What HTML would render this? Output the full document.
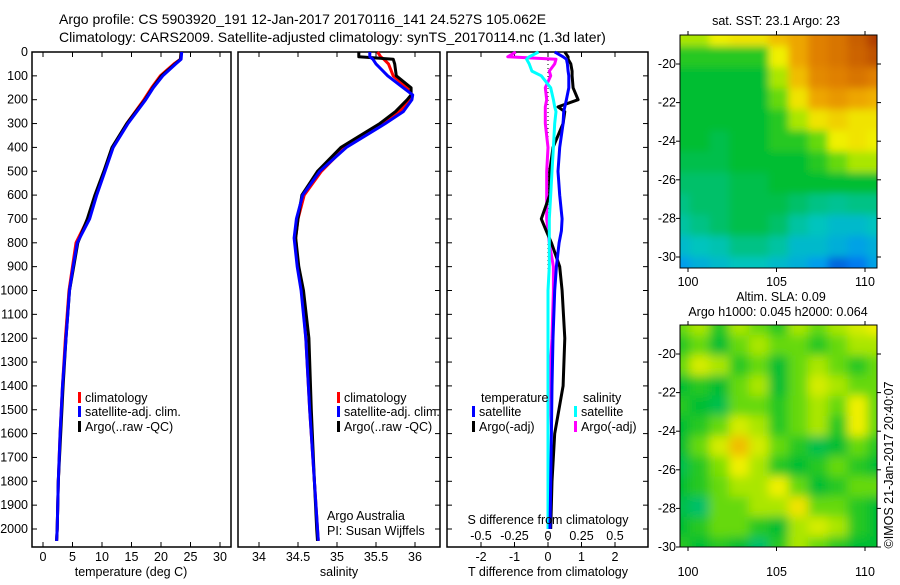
<!DOCTYPE html>
<html><head><meta charset="utf-8"><style>
body{margin:0;background:#fff;}
svg text{font-family:"Liberation Sans",sans-serif;font-size:12.5px;fill:#000;}
</style></head><body>
<svg id="fig" width="900" height="580" viewBox="0 0 900 580" xmlns="http://www.w3.org/2000/svg">
<defs>
<filter id="blur" x="0" y="0" width="1" height="1"><feGaussianBlur stdDeviation="4"/></filter>
<filter id="blur2" x="0" y="0" width="1" height="1"><feGaussianBlur stdDeviation="5"/></filter>
<clipPath id="c1"><rect x="680" y="35" width="197" height="233"/></clipPath>
<clipPath id="c2"><rect x="680" y="325" width="197" height="222"/></clipPath>
</defs>
<text x="59" y="24" style="font-size:14px">Argo profile: CS 5903920_191 12-Jan-2017 20170116_141 24.527S 105.062E</text>
<text x="59" y="42" style="font-size:14px">Climatology: CARS2009. Satellite-adjusted climatology: synTS_20170114.nc (1.3d later)</text>
<g id="g"></g>
</svg>
<script>
// ---- data ----
const depthT=[0,30,50,100,150,200,300,400,500,600,700,800,900,1000,1200,1400,1600,1800,2000,2050];
const tempClim=[23.4,23.3,22.2,19.9,18.4,17.1,14.2,11.8,10.4,8.9,7.6,5.6,5.0,4.4,3.8,3.3,2.9,2.6,2.4,2.3];
const tempSat=[23.5,23.4,22.5,20.3,18.7,17.4,14.4,11.9,10.5,9.1,7.9,5.8,5.1,4.5,3.9,3.3,2.9,2.6,2.4,2.3];
const tempArgo=[23.4,23.3,22.4,20.1,18.6,17.3,14.2,11.7,10.3,8.8,7.5,5.9,5.2,4.5,3.9,3.4,3.0,2.6,2.4,2.3];
const depthS=[0,20,30,50,100,150,180,200,250,300,400,500,600,700,780,900,1000,1200,1500,1800,2000,2050];
const salClim=[35.52,35.56,35.6,35.66,35.72,35.9,35.96,35.94,35.8,35.58,35.1,34.8,34.58,34.5,34.47,34.5,34.55,34.6,34.65,34.71,34.75,34.76];
const salSat=[35.42,35.42,35.46,35.5,35.65,35.85,35.97,35.96,35.85,35.62,35.12,34.78,34.56,34.48,34.45,34.49,34.54,34.6,34.65,34.71,34.75,34.76];
const salArgo=[35.28,35.28,35.72,35.74,35.76,35.95,35.95,35.9,35.75,35.55,35.05,34.75,34.55,34.5,34.47,34.51,34.57,34.64,34.67,34.71,34.74,34.75];
const depthD=[0,20,30,50,80,100,150,200,230,250,300,400,500,600,700,750,800,900,1000,1200,1400,1600,1800,2000];
const dTsat=[0.2,0.45,0.55,0.58,0.6,0.62,0.62,0.55,0.5,0.47,0.45,0.35,0.3,0.35,0.42,0.4,0.33,0.25,0.2,0.15,0.12,0.1,0.08,0.06];
const dTargo=[0.5,0.6,0.6,0.68,0.72,0.72,0.75,0.9,0.3,0.5,0.45,0.15,0.05,0.05,-0.2,-0.05,0.1,0.35,0.42,0.5,0.45,0.2,0.12,0.08];
const dSsat=[-0.07,-0.14,-0.16,-0.14,-0.12,-0.05,0.02,0.04,0.05,0.06,0.05,0.04,0.03,0.02,0.01,0.01,0.01,0.01,0.0,0.0,0.0,0.0,0.0,0.0];
const dSargo=[-0.24,-0.3,0.06,0.05,0.01,0.02,-0.02,-0.01,-0.02,-0.02,-0.02,0.0,-0.01,-0.01,-0.01,0.0,0.01,0.04,0.04,0.03,0.01,0.0,0.0,0.0];
const tTicks=[0,5,10,15,20,25,30];
const sTicks=[34,34.5,35,35.5,36];
const dTTicks=[-2,-1,0,1,2];
const dSTicks=[-0.5,-0.25,0,0.25,0.5];
const zTicks=[0,100,200,300,400,500,600,700,800,900,1000,1100,1200,1300,1400,1500,1600,1700,1800,1900,2000];
const sstGrid=[
[.55,.55,.6,.62,.62,.68,.72,.8,.82,.86,.92],
[.45,.45,.45,.45,.45,.6,.72,.8,.82,.85,.88],
[.42,.42,.42,.42,.42,.55,.68,.78,.8,.82,.8],
[.42,.42,.42,.42,.42,.5,.62,.72,.75,.72,.7],
[.42,.42,.42,.42,.42,.45,.55,.62,.65,.62,.62],
[.42,.42,.4,.42,.42,.45,.45,.5,.6,.62,.6],
[.4,.4,.4,.42,.42,.42,.42,.45,.5,.55,.55],
[.38,.38,.38,.4,.4,.42,.42,.42,.42,.42,.42],
[.36,.38,.38,.4,.4,.4,.38,.36,.35,.36,.36],
[.34,.36,.38,.4,.4,.38,.34,.32,.3,.3,.32],
[.3,.32,.33,.36,.36,.34,.3,.3,.28,.26,.28],
[.25,.28,.3,.32,.32,.3,.28,.25,.18,.2,.26]];
const slaGrid=[
[.5,.55,.45,.55,.5,.45,.55,.5,.55,.58,.6],
[.45,.5,.42,.5,.55,.5,.5,.45,.5,.55,.55],
[.5,.58,.55,.45,.5,.42,.5,.55,.5,.45,.5],
[.42,.45,.42,.5,.55,.42,.5,.58,.55,.5,.5],
[.45,.42,.4,.5,.5,.45,.5,.55,.5,.6,.5],
[.42,.45,.5,.58,.55,.45,.5,.55,.45,.6,.5],
[.42,.5,.58,.68,.58,.5,.45,.4,.42,.5,.45],
[.4,.45,.52,.6,.55,.45,.42,.45,.5,.45,.42],
[.42,.45,.5,.55,.55,.6,.5,.42,.45,.5,.5],
[.4,.38,.5,.5,.55,.55,.62,.5,.5,.45,.42],
[.42,.45,.5,.5,.45,.42,.55,.58,.55,.45,.42],
[.45,.42,.45,.42,.38,.45,.55,.5,.45,.42,.42]];
const lonTicks=[100,105,110];
const latTicks1=[-20,-22,-24,-26,-28,-30];
// ---- helpers ----
const NS="http://www.w3.org/2000/svg";
const G=document.getElementById('g');
function mk(tag,attrs,parent){const e=document.createElementNS(NS,tag);for(const k in attrs)e.setAttribute(k,attrs[k]);(parent||G).appendChild(e);return e;}
function txt(x,y,s,anchor,parent){const t=mk('text',{x:x,y:y,'text-anchor':anchor||'start'},parent);t.textContent=s;return t;}
const yD=d=>52+d*0.2385;
function lin(d0,d1,p0,p1){return v=>p0+(v-d0)*(p1-p0)/(d1-d0);}
const xT=lin(0,30,43,220), xS=lin(34,36,259,415), xDT=lin(-2,2,481,615), xDS=lin(-0.5,0.5,481,615);
function box(x0,x1,name){
  const r=mk('rect',{x:x0,y:52,width:x1-x0,height:495,fill:'none',stroke:'#000','stroke-width':1.5});
  
  
}
function xTicks(ticks,fx,name,yLab){
  ticks.forEach(t=>{const x=fx(t);
    mk('line',{x1:x,x2:x,y1:547,y2:542,stroke:'#000'});
    mk('line',{x1:x,x2:x,y1:52,y2:57,stroke:'#000'});
    const e=txt(x,yLab||561,String(t),'middle');
    
    });
}
function series(ys,xs,fx,color,name,w){
  const pts=ys.map((d,i)=>fx(xs[i]).toFixed(1)+','+yD(d).toFixed(1)).join(' ');
  const p=mk('polyline',{points:pts,fill:'none',stroke:color,'stroke-width':w||3,'stroke-linejoin':'round'});
  
  
}
function legend(x,y,color,label){
  mk('rect',{x:x,y:y-10,width:3,height:11,fill:color});
  const t=txt(x+7,y,label);
  
  
}
// panel 1
box(32,231,'temperature-panel');
zTicks.forEach(z=>{const y=yD(z);
  mk('line',{x1:32,x2:37,y1:y,y2:y,stroke:'#000'});
  mk('line',{x1:440,x2:435,y1:y,y2:y,stroke:'#000'});
  const t=txt(28,y+4,String(z),'end');
  
  });
xTicks(tTicks,xT,'temperature');
series(depthT,tempClim,xT,'#ff0000','temp-climatology-line');
series(depthT,tempArgo,xT,'#000','temp-argo-line');
series(depthT,tempSat,xT,'#0000ff','temp-satellite-line');
let e=txt(131,576,'temperature (deg C)','middle');
legend(78,402,'#ff0000','climatology');legend(78,416,'#0000ff','satellite-adj. clim.');legend(78,431,'#000','Argo(..raw -QC)');
// panel 2
box(238,440,'salinity-panel');
xTicks(sTicks,xS,'salinity');
series(depthS,salClim,xS,'#ff0000','sal-climatology-line');
series(depthS,salArgo,xS,'#000','sal-argo-line');
series(depthS,salSat,xS,'#0000ff','sal-satellite-line');
e=txt(339,576,'salinity','middle');
legend(337,402,'#ff0000','climatology');legend(337,416,'#0000ff','satellite-adj. clim.');legend(337,431,'#000','Argo(..raw -QC)');
e=txt(327,520,'Argo Australia');
e=txt(327,535,'PI: Susan Wijffels');
// panel 3
box(447,648,'difference-panel');
zTicks.forEach(z=>{const y=yD(z);mk('line',{x1:447,x2:452,y1:y,y2:y,stroke:'#000'});mk('line',{x1:648,x2:643,y1:y,y2:y,stroke:'#000'});});
mk('line',{x1:xDT(0),x2:xDT(0),y1:52,y2:547,stroke:'#000','stroke-dasharray':'1,3'});
xTicks(dTTicks,xDT,'t-diff');
dSTicks.forEach(t=>{const x=xDS(t);const a=txt(x,540,String(t),'middle');});
series(depthD,dSargo,xDS,'#ff00ff','s-argo-diff-line');
series(depthD,dTargo,xDT,'#000','t-argo-diff-line');
series(depthD,dSsat,xDS,'#00ffff','s-satellite-diff-line');
series(depthD,dTsat,xDT,'#0000ff','t-satellite-diff-line');
e=txt(548,524,'S difference from climatology','middle');
e=txt(548,576,'T difference from climatology','middle');
e=txt(481,402,'temperature');
e=txt(583,402,'salinity');
legend(472,416,'#0000ff','satellite');legend(472,431,'#000','Argo(-adj)');
legend(574,416,'#00ffff','satellite');legend(574,431,'#ff00ff','Argo(-adj)');
// colormap
const cstops=[[0.12,[16,48,176]],[0.22,[0,140,255]],[0.32,[0,196,190]],[0.42,[0,190,48]],[0.52,[128,224,0]],[0.6,[240,240,0]],[0.7,[240,176,0]],[0.8,[224,128,0]],[0.92,[176,60,0]]];
function cmap(v){if(v<=cstops[0][0])return 'rgb('+cstops[0][1]+')';
  for(let i=1;i<cstops.length;i++){if(v<=cstops[i][0]){const a=cstops[i-1],b=cstops[i],f=(v-a[0])/(b[0]-a[0]);
    return 'rgb('+a[1].map((c,k)=>Math.round(c+(b[1][k]-c)*f)).join(',')+')';}}
  return 'rgb('+cstops[cstops.length-1][1]+')';}
function map(grid,x0,y0,w,h,clip,filt,name,latTop,latBot,yLab){
  const g=mk('g',{'clip-path':'url(#'+clip+')'});
  
  
  const inner=mk('g',{filter:'url(#'+filt+')'},g);
  const rows=grid.length,cols=grid[0].length,cw=(w+20)/cols,ch=(h+20)/rows;
  mk('rect',{x:x0-10,y:y0-10,width:w+20,height:h+20,fill:'#00c030'},inner);
  grid.forEach((r,i)=>r.forEach((v,j)=>mk('rect',{x:x0-10+j*cw,y:y0-10+i*ch,width:cw+0.5,height:ch+0.5,fill:cmap(v)},inner)));
  mk('rect',{x:x0,y:y0,width:w,height:h,fill:'none',stroke:'#000'});
  const xl=lin(100,110,688,865);
  lonTicks.forEach(t=>{const x=xl(t);mk('line',{x1:x,x2:x,y1:y0+h,y2:y0+h+4,stroke:'#000'});mk('line',{x1:x,x2:x,y1:y0,y2:y0-4,stroke:'#000'});
    const a=txt(x,yLab,String(t),'middle');});
  const yl=lin(-20,-30,latTop,latBot);
  latTicks1.forEach(t=>{const y=yl(t);mk('line',{x1:x0,x2:x0-4,y1:y,y2:y,stroke:'#000'});mk('line',{x1:x0+w,x2:x0+w+4,y1:y,y2:y,stroke:'#000'});
    const a=txt(x0-4,y+4,String(t),'end');});
}
map(sstGrid,680,35,197,233,'c1','blur','sst-map',64,257,286);
map(slaGrid,680,325,197,222,'c2','blur2','sla-map',354,547,576);
e=txt(776,25,'sat. SST: 23.1 Argo: 23','middle');
e=txt(781,301,'Altim. SLA: 0.09','middle');
e=txt(778,316,'Argo h1000: 0.045 h2000: 0.064','middle');
e=txt(0,0,'©IMOS 21-Jan-2017 20:40:07','middle');e.setAttribute('transform','translate(893,465) rotate(-90)');

</script>
</body></html>
